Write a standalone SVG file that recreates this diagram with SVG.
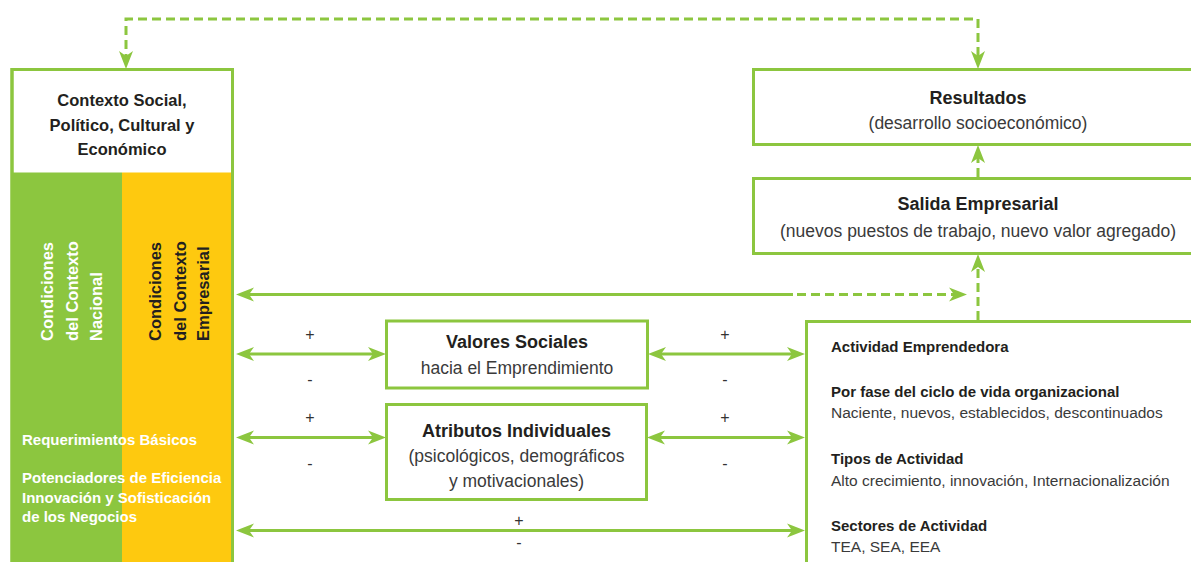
<svg xmlns="http://www.w3.org/2000/svg" width="1191" height="562" viewBox="0 0 1191 562">
<defs>
<style>
.box{fill:#fff;stroke:#8cc63f;stroke-width:3}
.frame{fill:none;stroke:#8cc63f;stroke-width:3}
.ln{fill:none;stroke:#8cc63f;stroke-width:3}
.dash{stroke-dasharray:9 5}
.b{font-family:"Liberation Sans",Arial,sans-serif;font-weight:bold;fill:#231f20}
.r{font-family:"Liberation Sans",Arial,sans-serif;fill:#3a3a3a}
.c{text-anchor:middle}
.w{fill:#fff}
.pm{font-family:"Liberation Sans",Arial,sans-serif;font-size:16px;fill:#333;text-anchor:middle}
</style>
<marker id="ah" viewBox="-13 -8 20 16" refX="0" refY="0" markerWidth="20" markerHeight="16" markerUnits="userSpaceOnUse" orient="auto-start-reverse">
<path d="M6,0 L-12,-7 L-7,0 L-12,7 Z" fill="#8cc63f"/>
</marker>
</defs>
<rect width="1191" height="562" fill="#fff"/>

<g id="contexto">
<rect class="box" x="12" y="69.5" width="220.5" height="520"/>
<rect x="12" y="172.5" width="110" height="400" fill="#8cc63f"/>
<rect x="122" y="172.5" width="110" height="400" fill="#fec90f"/>
<rect class="frame" x="12" y="69.5" width="220.5" height="520"/>
<text class="b c" font-size="16.5" x="122" y="106">Contexto Social,</text>
<text class="b c" font-size="16.5" x="122" y="130.5">Político, Cultural y</text>
<text class="b c" font-size="16.5" x="122" y="154.5">Económico</text>
<g class="b w" font-size="16.5">
<text class="w" transform="translate(53,341) rotate(-90)">Condiciones</text>
<text class="w" transform="translate(78,341) rotate(-90)">del Contexto</text>
<text class="w" transform="translate(102,341) rotate(-90)">Nacional</text>
</g>
<g class="b" font-size="16.5">
<text transform="translate(161,341) rotate(-90)">Condiciones</text>
<text transform="translate(186,341) rotate(-90)">del Contexto</text>
<text transform="translate(209,341) rotate(-90)">Empresarial</text>
</g>
<g class="b" font-size="15">
<text class="w" x="22" y="445">Requerimientos Básicos</text>
<text class="w" x="22" y="483">Potenciadores de Eficiencia</text>
<text class="w" x="22" y="502.5">Innovación y Sofisticación</text>
<text class="w" x="22" y="521.5">de los Negocios</text>
</g>
</g>

<g id="resultados">
<rect class="box" x="753.5" y="69.5" width="460" height="75"/>
<text class="b c" font-size="18" x="978" y="104">Resultados</text>
<text class="r c" font-size="17.5" x="978" y="129">(desarrollo socioeconómico)</text>
</g>

<g id="salida">
<rect class="box" x="753.5" y="178.5" width="460" height="75"/>
<text class="b c" font-size="18" x="978" y="209.5">Salida Empresarial</text>
<text class="r c" font-size="17.5" x="978" y="236.5">(nuevos puestos de trabajo, nuevo valor agregado)</text>
</g>

<g id="valores">
<rect class="box" x="386.5" y="321" width="261" height="67"/>
<text class="b c" font-size="18" x="517" y="348">Valores Sociales</text>
<text class="r c" font-size="17.5" x="517" y="374">hacia el Emprendimiento</text>
</g>

<g id="atributos">
<rect class="box" x="386.5" y="404.5" width="260" height="95"/>
<text class="b c" font-size="18" x="516.5" y="436.5">Atributos Individuales</text>
<text class="r c" font-size="17.5" x="516.5" y="461.5">(psicológicos, demográficos</text>
<text class="r c" font-size="17.5" x="516.5" y="486.5">y motivacionales)</text>
</g>

<g id="actividad">
<rect class="box" x="806.5" y="321.5" width="420" height="300"/>
<text class="b" font-size="15" x="831" y="351.5">Actividad Emprendedora</text>
<text class="b" font-size="15" x="831" y="397">Por fase del ciclo de vida organizacional</text>
<text class="r" font-size="15.5" x="831" y="417.5">Naciente, nuevos, establecidos, descontinuados</text>
<text class="b" font-size="15" x="831" y="464">Tipos de Actividad</text>
<text class="r" font-size="15.5" x="831" y="485.5">Alto crecimiento, innovación, Internacionalización</text>
<text class="b" font-size="15" x="831" y="530.5">Sectores de Actividad</text>
<text class="r" font-size="15.5" x="831" y="551.5">TEA, SEA, EEA</text>
</g>

<g id="connectors">
<path class="ln dash" d="M126,63 V19 H978 V63" marker-start="url(#ah)" marker-end="url(#ah)"/>
<path class="ln dash" d="M978,177 V151" marker-end="url(#ah)"/>
<path class="ln dash" d="M978,320 V260" marker-end="url(#ah)"/>
<path class="ln" d="M242,294.5 H793" marker-start="url(#ah)"/>
<path class="ln dash" d="M797,294.5 H961" marker-end="url(#ah)"/>
<path class="ln" d="M242,354 H380" marker-start="url(#ah)" marker-end="url(#ah)"/>
<path class="ln" d="M654,354 H799" marker-start="url(#ah)" marker-end="url(#ah)"/>
<path class="ln" d="M242,437.5 H380" marker-start="url(#ah)" marker-end="url(#ah)"/>
<path class="ln" d="M653,437.5 H799" marker-start="url(#ah)" marker-end="url(#ah)"/>
<path class="ln" d="M242,530.5 H799" marker-start="url(#ah)" marker-end="url(#ah)"/>
<text class="pm" x="310" y="340">+</text>
<text class="pm" x="310" y="385">-</text>
<text class="pm" x="725" y="340">+</text>
<text class="pm" x="725" y="385">-</text>
<text class="pm" x="310" y="423">+</text>
<text class="pm" x="310" y="469">-</text>
<text class="pm" x="725" y="423">+</text>
<text class="pm" x="725" y="469">-</text>
<text class="pm" x="519" y="526">+</text>
<text class="pm" x="519" y="548">-</text>
</g>
</svg>
